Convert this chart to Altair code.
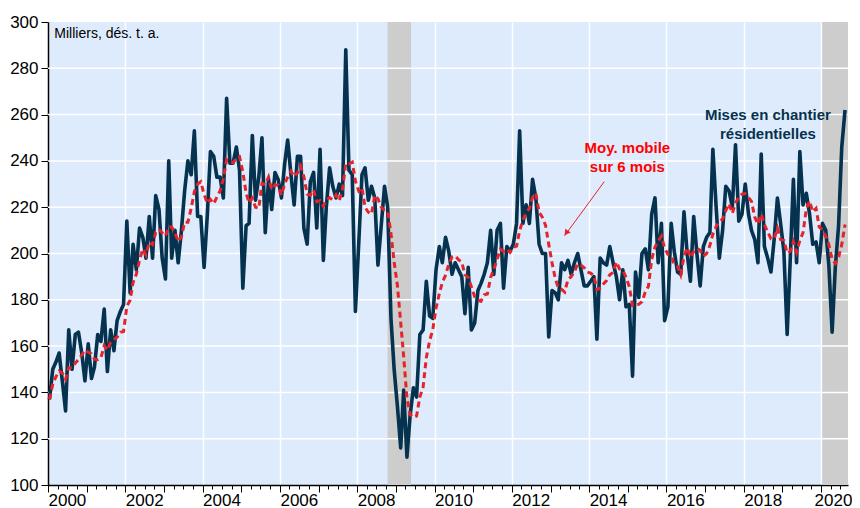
import altair as alt
import pandas as pd

# Monthly housing starts (thousands, SAAR), Jan 2000 - Aug 2020
v2000 = [137, 150, 153, 157, 145, 132, 167, 150, 165, 166, 157, 145]
v2001 = [161, 146, 151, 165, 162, 176, 149, 167, 158, 171, 175, 178]
v2002 = [214, 183, 204, 193, 211, 207, 198, 216, 198, 225, 219, 198]
v2003 = [189, 240, 198, 210, 196, 210, 227, 240, 234, 253, 216, 216]
v2004 = [194, 217, 244, 242, 233, 233, 224, 267, 239, 239, 246, 236]
v2005 = [185, 212, 213, 251, 223, 233, 250, 209, 232, 219, 235, 232]
v2006 = [224, 239, 249, 234, 221, 242, 242, 211, 204, 231, 235, 211]
v2007 = [245, 197, 220, 237, 229, 224, 230, 225, 288, 236, 234, 175]
v2008 = [204, 234, 237, 223, 229, 224, 195, 212, 229, 220, 172, 150]
v2009 = [134, 116, 141, 112, 130, 142, 138, 165, 167, 188, 173, 172]
v2010 = [193, 203, 196, 207, 201, 191, 196, 193, 190, 174, 194, 167]
v2011 = [170, 184, 187, 191, 196, 210, 191, 210, 213, 185, 203, 201]
v2012 = [204, 213, 253, 213, 221, 213, 232, 224, 204, 200, 200, 164]
v2013 = [184, 183, 180, 196, 193, 197, 191, 196, 200, 193, 186, 186]
v2014 = [188, 190, 163, 198, 196, 195, 203, 196, 190, 180, 193, 177]
v2015 = [178, 147, 192, 181, 200, 202, 193, 217, 224, 196, 213, 171]
v2016 = [177, 213, 201, 192, 191, 218, 200, 188, 216, 200, 186, 203]
v2017 = [207, 209, 245, 220, 198, 210, 229, 227, 220, 247, 214, 217]
v2018 = [230, 217, 210, 206, 196, 243, 203, 198, 192, 206, 224, 213]
v2019 = [201, 165, 196, 232, 196, 244, 221, 226, 217, 204, 205, 196]
v2020 = [213, 210, 195, 166, 194, 212, 246, 262]

values = (v2000 + v2001 + v2002 + v2003 + v2004 + v2005 + v2006 + v2007 + v2008 + v2009
          + v2010 + v2011 + v2012 + v2013 + v2014 + v2015 + v2016 + v2017 + v2018
          + v2019 + v2020)
dates = [f"{y}-{m:02d}-15" for y in range(2000, 2021) for m in range(1, 13)][:len(values)]

# Recession bands
rec_start = ["2008-10-14", "2020-01-12"]
rec_end = ["2009-05-24", "2020-09-12"]

y_ticks = list(range(100, 301, 20))
y_grid = list(range(120, 300, 20))
year_ticks = list(range(2000, 2021))

# Annotations
lbl_dates = ["2000-03-01"]
lbl_vals = [295]
lbl_text = ["Milliers, dés. t. a."]
series_dates = ["2018-08-17", "2018-08-17"]
series_vals = [259.8, 251.6]
series_text = ["Mises en chantier", "résidentielles"]
ma_dates = ["2014-12-28", "2014-12-28"]
ma_vals = [245.4, 237.2]
ma_text = ["Moy. mobile", "sur 6 mois"]
arrow_from = ("2014-05-23", 231.0)
arrow_to = ("2013-05-13", 207.6)
arrow_head = ("2013-06-04", 209.2)

NAVY = "#05324F"
RED = "#E5232B"
FONT = "Liberation Sans"

df = pd.DataFrame({"date": dates, "value": values})
rec = pd.DataFrame({"start": rec_start, "end": rec_end})
grid_df = pd.DataFrame({"v": y_grid})

xscale = alt.Scale(
    type="utc",
    domain=[alt.DateTime(year=2000, month=1, date=1, utc=True),
            alt.DateTime(year=2020, month=9, date=12, utc=True)],
    nice=False,
)
yscale = alt.Scale(domain=[100, 300], nice=False, zero=False)

major_axis = alt.Axis(
    orient="bottom",
    values=[alt.DateTime(year=y, month=1, date=1, utc=True) for y in year_ticks],
    labelExpr="utcyear(datum.value) % 2 == 0 ? utcFormat(datum.value, '%Y') : ''",
    labelAlign="left", labelBaseline="top", labelFontSize=17, labelColor="black",
    labelFont=FONT, labelPadding=0, labelFlush=False, labelOverlap=False,
    labelOffset={"condition": {"test": "utcyear(datum.value) == 2020", "value": -7},
                 "value": 0},
    tickSize=7, tickColor="black", tickWidth=1,
    domainColor="black", domainWidth=1.5,
    grid=True,
    gridColor={"condition": {"test": "utcyear(datum.value) % 2 == 0", "value": "white"},
               "value": "rgba(0,0,0,0)"},
    gridWidth=1.5,
    title=None,
)
minor_axis = alt.Axis(
    orient="bottom",
    values=[alt.DateTime(year=y, month=m, date=1, utc=True)
            for y in range(2000, 2021) for m in (1, 4, 7, 10)],
    labels=False, tickSize=4, tickColor="black", tickWidth=1,
    domain=False, grid=False, title=None,
)
yaxis = alt.Axis(
    values=y_ticks, format="d", labelFontSize=17, labelColor="black", labelFont=FONT,
    labelPadding=3, tickSize=7, tickColor="black", tickWidth=1,
    domainColor="black", domainWidth=1.5, grid=False, title=None,
)


def Y(field):
    return alt.Y(field, scale=yscale, axis=yaxis)


bands = alt.Chart(rec).mark_rect(color="#CDCDCD").encode(
    x=alt.X("start:T", scale=xscale, axis=minor_axis),
    x2="end:T",
    y=alt.value(0),
    y2=alt.value(463),
)

hgrid = alt.Chart(grid_df).mark_rule(color="white", strokeWidth=1.5).encode(
    y=Y("v:Q"),
)

line = alt.Chart(df).mark_line(color=NAVY, strokeWidth=3.6, strokeJoin="round").encode(
    x=alt.X("date:T", scale=xscale, axis=major_axis),
    y=Y("value:Q"),
)

ma = alt.Chart(df).transform_window(
    ma="mean(value)", frame=[-5, 0], sort=[alt.SortField("date")]
).mark_line(color=RED, strokeWidth=3, strokeDash=[6, 4]).encode(
    x=alt.X("date:T", scale=xscale, axis=None),
    y=Y("ma:Q"),
)

t_units = alt.Chart(pd.DataFrame({"d": lbl_dates, "v": lbl_vals, "t": lbl_text})).mark_text(
    align="left", baseline="middle", fontSize=14, font=FONT, color="black"
).encode(x=alt.X("d:T", scale=xscale, axis=None), y=Y("v:Q"), text="t:N")

t_series = alt.Chart(pd.DataFrame({"d": series_dates, "v": series_vals, "t": series_text})).mark_text(
    align="center", baseline="middle", fontSize=15, fontWeight="bold", font=FONT, color=NAVY
).encode(x=alt.X("d:T", scale=xscale, axis=None), y=Y("v:Q"), text="t:N")

t_ma = alt.Chart(pd.DataFrame({"d": ma_dates, "v": ma_vals, "t": ma_text})).mark_text(
    align="center", baseline="middle", fontSize=15, fontWeight="bold", font=FONT, color="#FF0000"
).encode(x=alt.X("d:T", scale=xscale, axis=None), y=Y("v:Q"), text="t:N")

arrow_df = pd.DataFrame({"d1": [arrow_from[0]], "v1": [arrow_from[1]],
                         "d2": [arrow_to[0]], "v2": [arrow_to[1]]})
arrow = alt.Chart(arrow_df).mark_rule(color="#E8202A", strokeWidth=1).encode(
    x=alt.X("d1:T", scale=xscale, axis=None), x2="d2:T",
    y=Y("v1:Q"), y2="v2:Q",
)
head = alt.Chart(pd.DataFrame({"d": [arrow_head[0]], "v": [arrow_head[1]]})).mark_point(
    shape="triangle", angle=216, filled=True, size=45, color="#E8202A", opacity=1
).encode(x=alt.X("d:T", scale=xscale, axis=None), y=Y("v:Q"))

chart = alt.layer(
    bands, hgrid, line, ma, t_units, t_series, t_ma, arrow, head
).resolve_axis(x="independent").properties(
    width=800, height=463,
    autosize=alt.AutoSizeParams(type="none"),
    padding={"left": 40, "top": 14, "right": 4, "bottom": 30},
).configure(font=FONT).configure_view(fill="#DDEBFC", stroke=None)

chart.save("out.html", embed_options={"renderer": "svg", "actions": False})
